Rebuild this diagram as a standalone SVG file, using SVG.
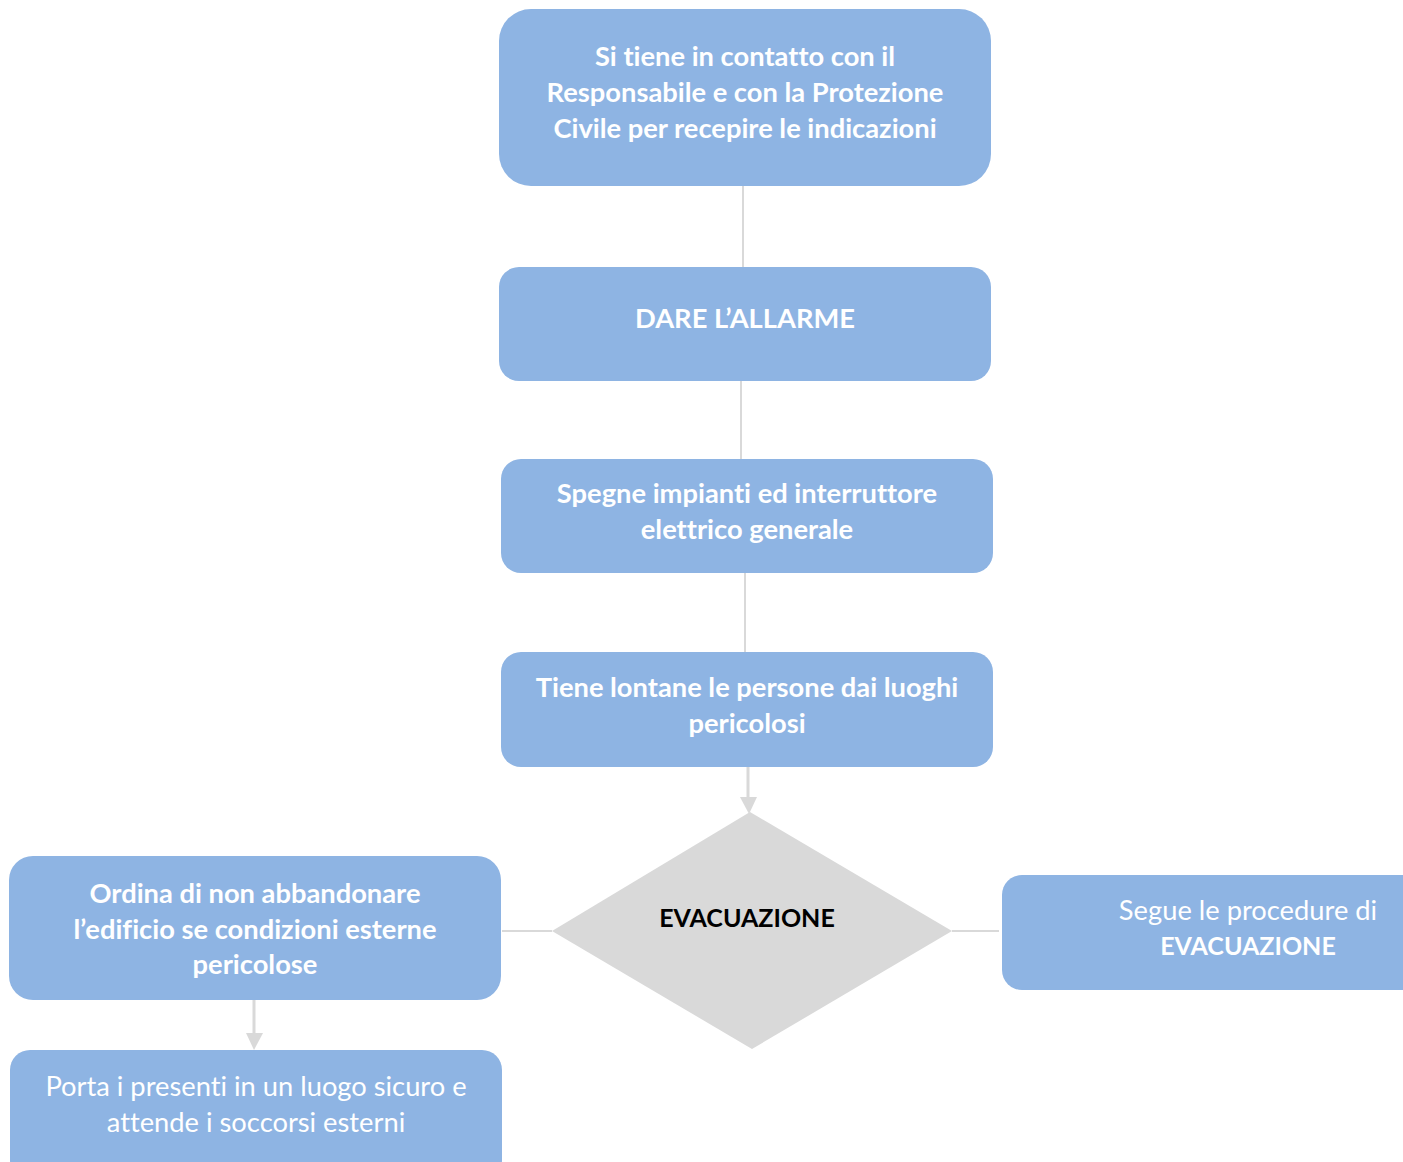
<svg xmlns="http://www.w3.org/2000/svg" width="1403" height="1162" viewBox="0 0 1403 1162">
<style>
.box{fill:#8EB4E3;}
.t{font-family:Lato,"Open Sans","Liberation Sans",sans-serif;font-size:27.3px;fill:#FFFFFF;text-anchor:middle;font-variant-ligatures:none;}
.b{font-weight:bold;}
.r{font-weight:normal;}
.caps{font-size:25px;}
.dark{fill:#000000;}
.con{stroke:#D9D9D9;stroke-width:2;fill:none;}
.stem{stroke:#D9D9D9;stroke-width:3;fill:none;}
.head{fill:#D9D9D9;}
</style>
<rect width="1403" height="1162" fill="#FFFFFF"/>
<g id="connectors">
<line class="con" x1="743" y1="186" x2="743" y2="267"/>
<line class="con" x1="741" y1="381" x2="741" y2="459"/>
<line class="con" x1="745" y1="573" x2="745" y2="652"/>
<path class="stem" d="M748,767 V799"/>
<path class="head" d="M740,797 L757,797 L749,814 Z"/>
<line class="con" x1="502" y1="931" x2="552" y2="931"/>
<line class="con" x1="952" y1="931" x2="999" y2="931"/>
<path class="stem" d="M254,1000 V1035"/>
<path class="head" d="M246,1033 L263,1033 L254,1050 Z"/>
</g>
<g id="n1">
<rect class="box" x="499" y="9" width="492" height="177" rx="32"/>
<text class="t b" x="745" y="66">Si tiene in contatto con il</text>
<text class="t b" x="745" y="102">Responsabile e con la Protezione</text>
<text class="t b" x="745" y="138">Civile per recepire le indicazioni</text>
</g>
<g id="n2">
<rect class="box" x="499" y="267" width="492" height="114" rx="20"/>
<text class="t b" x="745" y="328">DARE L’ALLARME</text>
</g>
<g id="n3">
<rect class="box" x="501" y="459" width="492" height="114" rx="20"/>
<text class="t b" x="747" y="503">Spegne impianti ed interruttore</text>
<text class="t b" x="747" y="539">elettrico generale</text>
</g>
<g id="n4">
<rect class="box" x="501" y="652" width="492" height="115" rx="20"/>
<text class="t b" x="747" y="697">Tiene lontane le persone dai luoghi</text>
<text class="t b" x="747" y="733">pericolosi</text>
</g>
<g id="decision">
<polygon points="750,812 952,931 752,1049 552,931" fill="#D9D9D9"/>
<text class="t b dark caps" x="747" y="927">EVACUAZIONE</text>
</g>
<g id="left">
<rect class="box" x="9" y="856" width="492" height="144" rx="24"/>
<text class="t b" x="255" y="903">Ordina di non abbandonare</text>
<text class="t b" x="255" y="939">l’edificio se condizioni esterne</text>
<text class="t b" x="255" y="974">pericolose</text>
</g>
<g id="bottom">
<rect class="box" x="10" y="1050" width="492" height="130" rx="20"/>
<text class="t r" x="256" y="1096">Porta i presenti in un luogo sicuro e</text>
<text class="t r" x="256" y="1132">attende i soccorsi esterni</text>
</g>
<g id="right">
<rect class="box" x="1002" y="875" width="430" height="115" rx="20"/>
<text class="t r" x="1248" y="920">Segue le procedure di</text>
<text class="t b caps" x="1248" y="955">EVACUAZIONE</text>
</g>
</svg>
